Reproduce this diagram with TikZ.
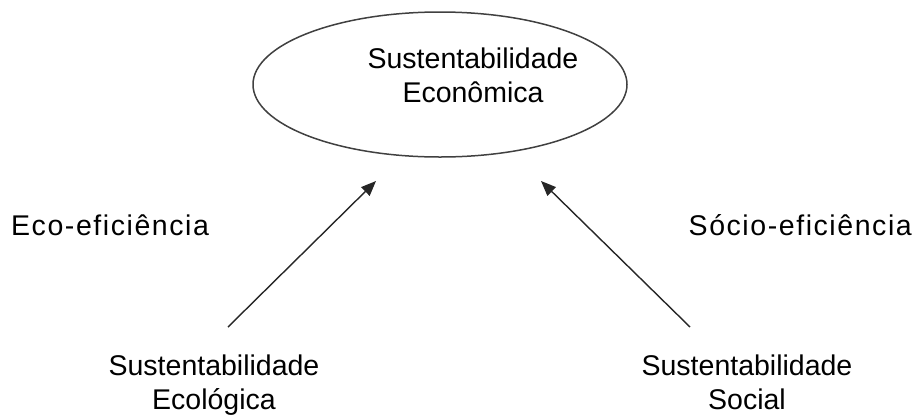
\documentclass[tikz,border=0pt]{standalone}
\usepackage{fontspec}
\setmainfont{Liberation Sans}
\newfontfamily\spacedfont[LetterSpace=5.5]{Liberation Sans}
\usetikzlibrary{arrows.meta,shapes.geometric}
\begin{document}
\begin{tikzpicture}[x=1pt,y=-1pt,
  lbl/.style={inner sep=0pt,anchor=base,align=center,
    font=\fontsize{28.5}{34}\selectfont},
  side/.style={inner sep=0pt,font=\spacedfont\fontsize{28.5}{34}\selectfont},
  conn/.style={draw=black!85,line width=1.4pt,
    -{Triangle[length=15pt,width=12pt]}}]
\useasboundingbox (0,0) rectangle (917,416);
\node[ellipse,draw=black!75,line width=1.5pt,minimum width=374pt,minimum height=145pt,inner sep=0pt] (econ) at (440,84.5) {};
\node[lbl] (econtext) at (473,102) {Sustentabilidade\\Econômica};
\node[lbl] (ecol) at (214,409.5) {Sustentabilidade\\Ecológica};
\node[lbl] (soc) at (747,409.5) {Sustentabilidade\\Social};
\node[side,anchor=base west] (eco) at (11,235) {Eco-eficiência};
\node[side,anchor=base east] (socio) at (912,235) {Sócio-eficiência};
\coordinate (ecolTop) at (228,327);
\coordinate (socTop) at (690,327);
\coordinate (econL) at (376,181);
\coordinate (econR) at (541,181);
\draw[conn] (ecolTop) -- (econL);
\draw[conn] (socTop) -- (econR);
\end{tikzpicture}
\end{document}
